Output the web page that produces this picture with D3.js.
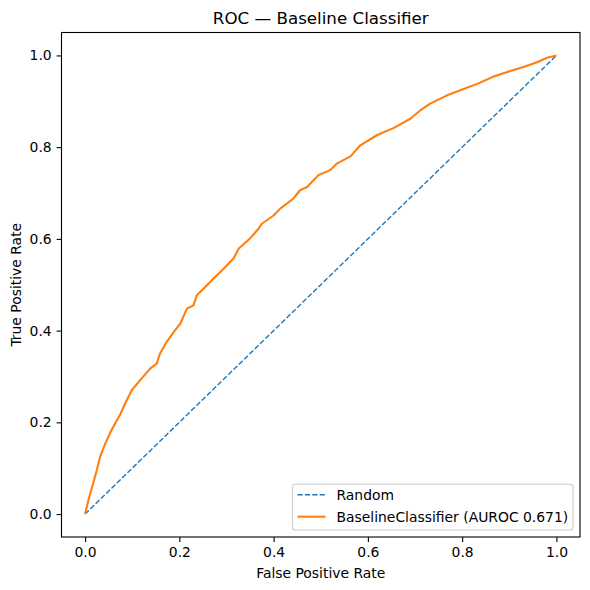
<!DOCTYPE html>
<html>
<head>
<meta charset="utf-8">
<script src="https://cdn.jsdelivr.net/npm/d3@7"></script>
<style>
  body { margin: 0; background: #fff; }
  text { font-family: "DejaVu Sans", sans-serif; fill: #000; }
</style>
</head>
<body>
<div id="chart"></div>
<script>
// Datos del gráfico
const chartTitle = "ROC — Baseline Classifier";
const xLabel = "False Positive Rate";
const yLabel = "True Positive Rate";
const tickValues = [0, 0.2, 0.4, 0.6, 0.8, 1.0];
const randomLabel = "Random";
const modelLabel = "BaselineClassifier (AUROC 0.671)";

const randomFpr = [0, 1];
const randomTpr = [0, 1];

const modelFpr = [0, 0.008, 0.018, 0.025, 0.032, 0.043, 0.054, 0.064, 0.074, 0.085, 0.099,
  0.117, 0.138, 0.152, 0.159, 0.173, 0.191, 0.202, 0.216, 0.230, 0.237,
  0.255, 0.272, 0.294, 0.315, 0.326, 0.350, 0.368, 0.375, 0.400, 0.414,
  0.442, 0.456, 0.471, 0.495, 0.520, 0.534, 0.563, 0.584, 0.619, 0.655,
  0.690, 0.711, 0.732, 0.768, 0.803, 0.832, 0.867, 0.902, 0.930, 0.959,
  0.980, 1.0];
const modelTpr = [0, 0.034, 0.070, 0.096, 0.125, 0.154, 0.179, 0.198, 0.216, 0.241, 0.270,
  0.292, 0.317, 0.328, 0.350, 0.375, 0.401, 0.415, 0.448, 0.455, 0.477,
  0.495, 0.513, 0.535, 0.557, 0.579, 0.601, 0.622, 0.633, 0.651, 0.666,
  0.688, 0.706, 0.713, 0.739, 0.750, 0.764, 0.780, 0.804, 0.826, 0.842,
  0.862, 0.880, 0.895, 0.913, 0.927, 0.938, 0.954, 0.966, 0.975, 0.985,
  0.995, 1.0];

const width = 590;
const height = 590;
const margin = { top: 32.5, right: 10, bottom: 53, left: 61.5 };

const svg = d3.select("#chart")
  .append("svg")
  .attr("width", width)
  .attr("height", height);

const x = d3.scaleLinear()
  .domain([-0.05, 1.05])
  .range([margin.left, width - margin.right]);
const y = d3.scaleLinear()
  .domain([-0.05, 1.05])
  .range([height - margin.bottom, margin.top]);

// Ejes
const xAxis = d3.axisBottom(x).tickValues(tickValues).tickFormat(d3.format(".1f")).tickSize(4.9).tickPadding(4.9);
const yAxis = d3.axisLeft(y).tickValues(tickValues).tickFormat(d3.format(".1f")).tickSize(4.9).tickPadding(4.9);

const gx = svg.append("g")
  .attr("transform", `translate(0,${height - margin.bottom})`)
  .call(xAxis);
const gy = svg.append("g")
  .attr("transform", `translate(${margin.left},0)`)
  .call(yAxis);

[gx, gy].forEach(g => {
  g.select(".domain").remove();
  g.selectAll(".tick line").attr("stroke", "#000").attr("stroke-width", 1.1);
  g.selectAll(".tick text").style("font-size", "13.9px").style("font-family", "DejaVu Sans").attr("fill", "#000");
});

// Marco de los ejes
svg.append("rect")
  .attr("x", margin.left)
  .attr("y", margin.top)
  .attr("width", width - margin.right - margin.left)
  .attr("height", height - margin.bottom - margin.top)
  .attr("fill", "none")
  .attr("stroke", "#000")
  .attr("stroke-width", 1.1);

// Línea aleatoria
const line = d3.line().x(d => x(d[0])).y(d => y(d[1]));

svg.append("path")
  .datum(randomFpr.map((v, i) => [v, randomTpr[i]]))
  .attr("d", line)
  .attr("fill", "none")
  .attr("stroke", "#1f77b4")
  .attr("stroke-width", 1.4)
  .attr("stroke-dasharray", "5.2,2.2");

// Curva ROC
svg.append("path")
  .datum(modelFpr.map((v, i) => [v, modelTpr[i]]))
  .attr("d", line)
  .attr("fill", "none")
  .attr("stroke", "#ff7f0e")
  .attr("stroke-width", 2.1)
  .attr("stroke-linejoin", "round");

// Títulos
svg.append("text")
  .attr("x", (margin.left + width - margin.right) / 2)
  .attr("y", 24)
  .attr("text-anchor", "middle")
  .style("font-size", "16.7px")
  .text(chartTitle);

svg.append("text")
  .attr("x", (margin.left + width - margin.right) / 2)
  .attr("y", 578)
  .attr("text-anchor", "middle")
  .style("font-size", "13.9px")
  .text(xLabel);

svg.append("text")
  .attr("transform", `translate(21,${(margin.top + height - margin.bottom) / 2}) rotate(-90)`)
  .attr("text-anchor", "middle")
  .style("font-size", "13.9px")
  .text(yLabel);

// Leyenda
const legend = svg.append("g");
legend.append("rect")
  .attr("x", 292.5)
  .attr("y", 484.3)
  .attr("width", 280.5)
  .attr("height", 45.7)
  .attr("rx", 2.8)
  .attr("fill", "#fff")
  .attr("fill-opacity", 0.8)
  .attr("stroke", "#ccc")
  .attr("stroke-width", 1.1);

const legendItems = [
  { label: randomLabel, color: "#1f77b4", dash: "5.2,2.2", width: 1.4 },
  { label: modelLabel, color: "#ff7f0e", dash: null, width: 2.1 }
];

legendItems.forEach((item, i) => {
  const cy = 494.7 + i * 22;
  legend.append("line")
    .attr("x1", 297.5).attr("x2", 325.5)
    .attr("y1", cy).attr("y2", cy)
    .attr("stroke", item.color)
    .attr("stroke-width", item.width)
    .attr("stroke-dasharray", item.dash);
  legend.append("text")
    .attr("x", 336.5)
    .attr("y", cy)
    .attr("dy", "0.35em")
    .style("font-size", "13.9px")
    .text(item.label);
});
</script>
</body>
</html>
